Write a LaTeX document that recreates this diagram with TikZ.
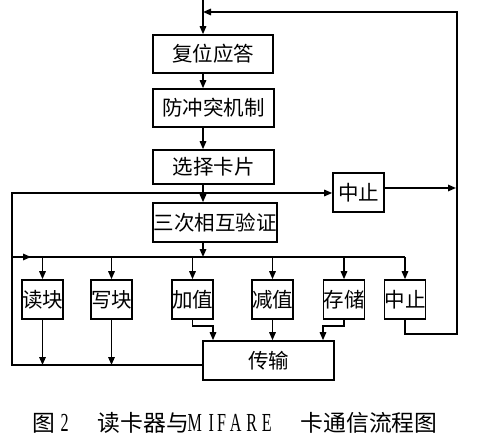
\documentclass[tikz,border=0pt]{standalone}
\usepackage{fontspec}
\setmainfont{Liberation Serif}
\newfontfamily\cjk{Noto Sans CJK SC}
\usetikzlibrary{arrows.meta,calc}
\newcommand{\lat}[1]{\makebox[0pt]{\scalebox{0.62}[1]{\rmfamily\fontsize{26}{28}\selectfont #1}}}
\newcommand{\putat}[2]{\rlap{\hspace{#1}#2}}
\begin{document}
\begin{tikzpicture}[x=1pt,y=-1pt,
  box/.style={draw,line width=1.6pt,inner sep=0pt,font=\cjk\fontsize{20.5}{22}\selectfont},
  sbox/.style={box,minimum width=41pt,minimum height=39pt},
  ln/.style={line width=1.5pt},
  arr/.style={ln,-{Triangle[length=8pt,width=6.5pt]}}]
\useasboundingbox (0,0) rectangle (484,438);
\node[box,minimum width=120pt,minimum height=38pt] (fw) at (213,54) {复位应答};
\node[box,minimum width=121pt,minimum height=38pt] (fc) at (213.5,108) {防冲突机制};
\node[box,minimum width=121pt,minimum height=34pt] (xz) at (213.5,167) {选择卡片};
\node[box,minimum width=124pt,minimum height=39pt] (yz) at (215,222.5) {三次相互验证};
\node[box,minimum width=51pt,minimum height=39pt] (zz1) at (358.5,192.5) {中止};
\node[sbox] (rd) at (42.5,299.5) {读块};
\node[sbox] (wr) at (111.5,299.5) {写块};
\node[sbox] (jz) at (192.5,299.5) {加值};
\node[sbox] (jn) at (272.5,299.5) {减值};
\node[sbox] (cc) at (344,299.5) {存储};
\node[sbox] (zz2) at (405,299.5) {中止};
\node[box,minimum width=131pt,minimum height=39pt] (tx) at (268.5,360.5) {传输};
% main flow
\coordinate (top) at (203,0);
\draw[arr] (top) -- (top |- fw.north);
\draw[arr] (top |- fw.south) -- (top |- fc.north);
\draw[arr] (top |- fc.south) -- (top |- xz.north);
\draw[arr] (top |- xz.south) -- (top |- yz.north);
\coordinate (busL) at (12,257);
\coordinate (busR) at (405,257);
\draw[arr] (top |- yz.south) -- (top |- busL);
\draw[ln] (busL) -- (busR);
\draw[arr] (busL) -- (31,257);
\foreach \b in {rd,wr,jz,jn,cc,zz2} \draw[arr] (\b.north |- busL) -- (\b.north);
% left loop
\coordinate (botL) at (12,365);
\coordinate (midL) at (12,193);
\draw[arr] (tx.west |- botL) -- (botL) -- (midL) -- (midL -| zz1.west);
\draw[arr] (rd.south) -- (rd.south |- botL);
\draw[arr] (wr.south) -- (wr.south |- botL);
% to transfer
\coordinate (j1) at (213,326);
\draw[arr] (jz.south) |- (j1) -- (j1 |- tx.north);
\draw[arr] (jn.south) -- (jn.south |- tx.north);
\coordinate (c1) at (323,326);
\draw[arr] (cc.south) |- (c1) -- (c1 |- tx.north);
% right loop
\coordinate (rR) at (457,334);
\coordinate (rT) at (457,12);
\draw[arr] (zz2.south) |- (rR) -- (rT) -- (top |- rT);
\draw[arr] (zz1.east |- 0,188) -- (456,188);
% caption
\node[inner sep=0pt,anchor=base west,font=\cjk\fontsize{22.8}{24}\selectfont] (cap) at (32,431)
 {\putat{0pt}{图}\putat{32pt}{\lat{2}}\putat{65pt}{读卡器与}\putat{162pt}{\lat{M}}\putat{178.5pt}{\lat{I}}\putat{189pt}{\lat{F}}\putat{203pt}{\lat{A}}\putat{219pt}{\lat{R}}\putat{234pt}{\lat{E}}\putat{268pt}{卡通信流程图}\hspace{405pt}};
\end{tikzpicture}
\end{document}
